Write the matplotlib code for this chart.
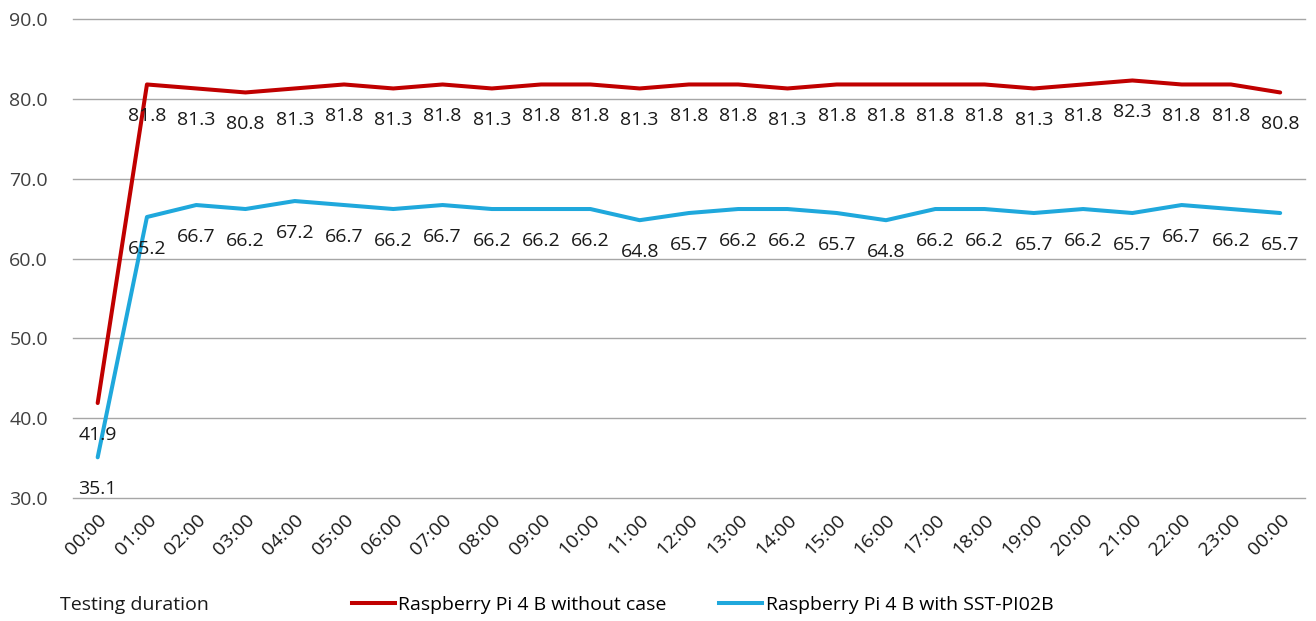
import matplotlib.pyplot as plt
from matplotlib.lines import Line2D

# Testing duration labels (24 h run, ends back at 00:00)
hours = ['%02d:00' % h for h in range(24)] + ['00:00']

no_case = [41.9, 81.8, 81.3, 80.8, 81.3, 81.8, 81.3, 81.8, 81.3, 81.8, 81.8, 81.3, 81.8,
           81.8, 81.3, 81.8, 81.8, 81.8, 81.8, 81.3, 81.8, 82.3, 81.8, 81.8, 80.8]
with_case = [35.1, 65.2, 66.7, 66.2, 67.2, 66.7, 66.2, 66.7, 66.2, 66.2, 66.2, 64.8, 65.7,
             66.2, 66.2, 65.7, 64.8, 66.2, 66.2, 65.7, 66.2, 65.7, 66.7, 66.2, 65.7]

yticks = [30, 40, 50, 60, 70, 80, 90]

red = '#c00000'
blue = '#1fa8dc'
font = 'Open Sans'
fs = 14


def main():
    fig = plt.figure(figsize=(13.16, 6.21), dpi=100)
    ax = fig.add_axes([0.0555, 0.198, 0.936, 0.7714])

    x = list(range(len(hours)))
    ax.plot(x, no_case, color=red, lw=2.9, solid_capstyle='round', zorder=3)
    ax.plot(x, with_case, color=blue, lw=2.9, solid_capstyle='round', zorder=3)

    # data labels below each point
    for series in (no_case, with_case):
        for xi, v in zip(x, series):
            ax.annotate('%.1f' % v, (xi, v), xytext=(0, -23), textcoords='offset points',
                        ha='center', va='center', fontsize=fs, family=font, color='#1a1a1a')

    ax.set_xlim(-0.5, len(hours) - 0.5)
    ax.set_ylim(30, 90)
    ax.set_yticks(yticks)
    ax.set_yticklabels(['%.1f' % t for t in yticks], family=font, fontsize=fs, color='#404040')
    ax.set_xticks(x)
    ax.set_xticklabels(hours, rotation=45, ha='right', rotation_mode='anchor',
                       family=font, fontsize=fs, color='#1a1a1a')
    ax.tick_params(axis='both', length=0)
    ax.tick_params(axis='y', pad=18)
    ax.tick_params(axis='x', pad=9)
    ax.grid(axis='y', color='#a6a6a6', lw=1.0)
    for gl in ax.get_ygridlines():
        gl.set_clip_on(False)
    ax.set_axisbelow(True)
    for s in ax.spines.values():
        s.set_visible(False)

    fig.text(60 / 1316, 1 - 605 / 621, 'Testing duration', family=font, fontsize=fs,
             color='#1a1a1a', ha='left', va='center')

    handles = [Line2D([], [], color=red, lw=2.9),
               Line2D([], [], color=blue, lw=2.9)]
    fig.legend(handles, ['Raspberry Pi 4 B without case', 'Raspberry Pi 4 B with SST-PI02B'],
               loc='center left', bbox_to_anchor=(342 / 1316, 1 - 605 / 621), ncol=2,
               frameon=False, handlelength=2.2, handletextpad=0.2, columnspacing=2.7,
               borderpad=0, prop={'family': font, 'size': fs})

    fig.savefig('out.png', dpi=100)


if __name__ == '__main__':
    main()
